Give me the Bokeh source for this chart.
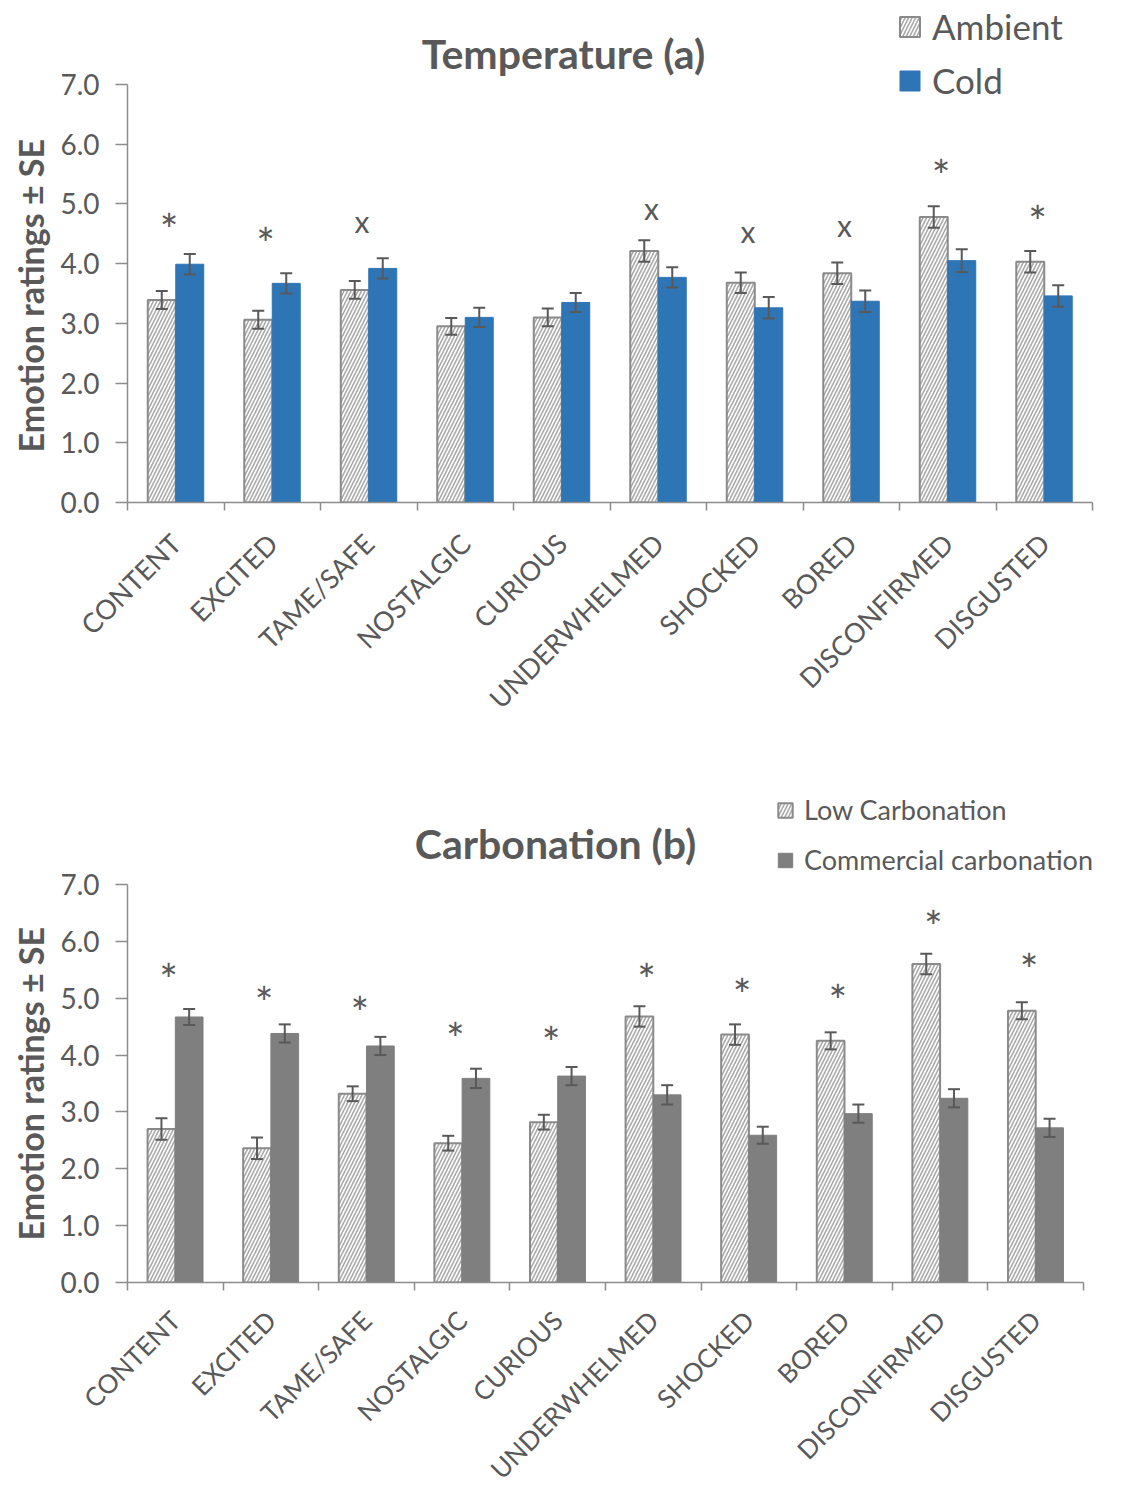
import math
from bokeh.plotting import figure
from bokeh.models import (Range1d, FixedTicker, NumeralTickFormatter, Whisker, TeeHead,
                          ColumnDataSource, Legend, LegendItem, Label, Title)
from bokeh.layouts import column
from bokeh.embed import file_html
from bokeh.resources import INLINE
from bokeh.core.properties import value

categories = ["CONTENT", "EXCITED", "TAME/SAFE", "NOSTALGIC", "CURIOUS",
              "UNDERWHELMED", "SHOCKED", "BORED", "DISCONFIRMED", "DISGUSTED"]

# Temperature (a)
ambient = [3.39, 3.06, 3.56, 2.95, 3.10, 4.21, 3.68, 3.84, 4.78, 4.03]
ambient_se = [0.15, 0.15, 0.15, 0.14, 0.15, 0.18, 0.17, 0.18, 0.18, 0.18]
cold = [3.99, 3.67, 3.92, 3.10, 3.35, 3.77, 3.26, 3.37, 4.05, 3.46]
cold_se = [0.17, 0.17, 0.17, 0.16, 0.16, 0.17, 0.18, 0.18, 0.19, 0.18]
temp_sig = ["*", "*", "x", "", "", "x", "x", "x", "*", "*"]
temp_sig_y = [4.68, 4.44, 4.62, 0, 0, 4.83, 4.44, 4.55, 5.59, 4.81]

# Carbonation (b)
low_carb = [2.70, 2.36, 3.32, 2.45, 2.82, 4.68, 4.36, 4.25, 5.60, 4.78]
low_carb_se = [0.19, 0.19, 0.13, 0.13, 0.13, 0.18, 0.18, 0.15, 0.18, 0.15]
commercial = [4.67, 4.38, 4.16, 3.59, 3.63, 3.30, 2.59, 2.97, 3.24, 2.72]
commercial_se = [0.14, 0.16, 0.16, 0.17, 0.16, 0.17, 0.15, 0.16, 0.16, 0.16]
carb_sig = ["*"] * 10
carb_sig_y = [5.44, 5.04, 4.86, 4.41, 4.34, 5.44, 5.18, 5.08, 6.38, 5.62]

y_ticks = [0, 1, 2, 3, 4, 5, 6, 7]
y_max = 7

FONT = "Lato"
TXT = "#595959"
AXC = "#8c8c8c"
PAGE_W = 1126


def make_chart(title, name1, v1, e1, name2, v2, e2, color2, sig, sig_y,
               height, top, bottom, x_top, y_top, title_xy, ylab_offset,
               leg_loc, leg_font, leg_glyph, leg_spacing, cat_font, cat_standoff):
    n = len(categories)
    centers = [i + 0.5 for i in range(n)]
    bw = 0.29
    x1 = [c - bw / 2 for c in centers]
    x2 = [c + bw / 2 for c in centers]
    src = ColumnDataSource(dict(
        x1=x1, x2=x2, v1=v1, v2=v2,
        u1=[a + b for a, b in zip(v1, e1)], l1=[a - b for a, b in zip(v1, e1)],
        u2=[a + b for a, b in zip(v2, e2)], l2=[a - b for a, b in zip(v2, e2)],
    ))
    p = figure(width=PAGE_W, height=height, x_range=Range1d(0, x_top),
               y_range=Range1d(0, y_top),
               output_backend="svg", toolbar_location=None,
               x_axis_location="below", y_axis_location="left",
               min_border_left=127, min_border_right=0,
               min_border_top=top, min_border_bottom=bottom)
    p.outline_line_color = None
    p.xgrid.visible = False
    p.ygrid.visible = False

    r1 = p.vbar(x="x1", top="v1", width=bw, source=src, fill_color="white",
                line_color="#8a8a8a", line_width=2, hatch_pattern="/",
                hatch_color="#a8a8a8", hatch_scale=7, hatch_weight=1.6)
    r2 = p.vbar(x="x2", top="v2", width=bw, source=src, fill_color=color2,
                line_color=color2, line_width=1)

    for b, u, l in (("x1", "u1", "l1"), ("x2", "u2", "l2")):
        w = Whisker(source=src, base=b, upper=u, lower=l, level="overlay",
                    line_color=TXT, line_width=2,
                    upper_head=TeeHead(size=12, line_color=TXT, line_width=2),
                    lower_head=TeeHead(size=12, line_color=TXT, line_width=2))
        p.add_layout(w)

    # significance markers
    for sym, size, yoff in (("*", "44px", 6), ("x", "30px", -6)):
        xs = [centers[i] - 0.07 for i in range(n) if sig[i] == sym]
        ys = [sig_y[i] for i in range(n) if sig[i] == sym]
        if xs:
            p.text(x=xs, y=ys, text=[sym] * len(xs), text_align="center",
                   text_baseline="middle", y_offset=yoff,
                   text_font=value(FONT), text_font_size=size, text_color=TXT)

    # chart title
    p.add_layout(Label(x=title_xy[0], y=title_xy[1], x_units="screen", y_units="screen",
                       text=title, text_align="center", text_baseline="middle",
                       text_font=FONT, text_font_size="41px", text_font_style="bold",
                       text_color=TXT))

    # y axis
    ya = p.yaxis[0]
    ya.bounds = (0, y_max)
    ya.ticker = FixedTicker(ticks=y_ticks)
    ya.formatter = NumeralTickFormatter(format="0.0")
    ya.major_tick_out = 12
    ya.major_tick_in = 0
    ya.minor_tick_line_color = None
    ya.axis_line_color = AXC
    ya.axis_line_width = 1.5
    ya.major_tick_line_color = AXC
    ya.major_tick_line_width = 1.5
    ya.major_label_standoff = 16
    ya.major_label_text_font = FONT
    ya.major_label_text_font_size = "28px"
    ya.major_label_text_color = TXT
    p.add_layout(Title(text="Emotion ratings \u00b1 SE", align="left", offset=ylab_offset,
                       text_font=FONT, text_font_size="34px", text_font_style="bold",
                       text_color=TXT, standoff=14), "left")

    # x axis: category labels at centres, tick marks at category boundaries
    xa = p.xaxis[0]
    xa.bounds = (0, n)
    xa.ticker = FixedTicker(ticks=centers, minor_ticks=list(range(n + 1)))
    xa.major_label_overrides = {c: name for c, name in zip(centers, categories)}
    xa.major_label_orientation = math.pi / 4
    xa.major_tick_line_color = None
    xa.major_tick_out = 0
    xa.major_tick_in = 0
    xa.minor_tick_out = 8
    xa.minor_tick_in = 0
    xa.minor_tick_line_color = AXC
    xa.minor_tick_line_width = 1.5
    xa.axis_line_color = AXC
    xa.axis_line_width = 1.5
    xa.major_label_standoff = cat_standoff
    xa.major_label_text_font = FONT
    xa.major_label_text_font_size = cat_font
    xa.major_label_text_color = TXT

    legend = Legend(items=[LegendItem(label=name1, renderers=[r1]),
                           LegendItem(label=name2, renderers=[r2])],
                    location=leg_loc, glyph_width=leg_glyph, glyph_height=leg_glyph,
                    label_text_font=FONT, label_text_font_size=leg_font,
                    label_text_color=TXT, label_standoff=10, spacing=leg_spacing,
                    padding=0, margin=0, border_line_color=None,
                    background_fill_alpha=0)
    p.add_layout(legend)
    return p


n_cat = len(categories)
# (a): frame page y 0..502 and x 127..1126; data 0..7 -> y 84..502, 0..10 -> x 127..1092
pa = make_chart("Temperature (a)", "Ambient", ambient, ambient_se,
                "Cold", cold, cold_se, "#2E75B6", temp_sig, temp_sig_y,
                height=770, top=0, bottom=268,
                x_top=n_cat * (PAGE_W - 127) / (1092 - 127),
                y_top=y_max * (502 - 0) / (502 - 84),
                title_xy=(436, 449), ylab_offset=50,
                leg_loc=(770, 401), leg_font="35px", leg_glyph=25, leg_spacing=12,
                cat_font="27px", cat_standoff=28)
# (b): starts at page y 770; frame y 770..1282; data 0..7 -> 884..1282, 0..10 -> x 127..1083
pb = make_chart("Carbonation (b)", "Low Carbonation", low_carb, low_carb_se,
                "Commercial carbonation", commercial, commercial_se, "#7F7F7F",
                carb_sig, carb_sig_y,
                height=740, top=0, bottom=228,
                x_top=n_cat * (PAGE_W - 127) / (1083 - 127),
                y_top=y_max * (1282 - 770) / (1282 - 884),
                title_xy=(428, 439), ylab_offset=42,
                leg_loc=(649, 406), leg_font="27px", leg_glyph=18, leg_spacing=17,
                cat_font="26px", cat_standoff=25)

layout = column(pa, pb, spacing=0)
open("out.html", "w").write(file_html(layout, INLINE))
